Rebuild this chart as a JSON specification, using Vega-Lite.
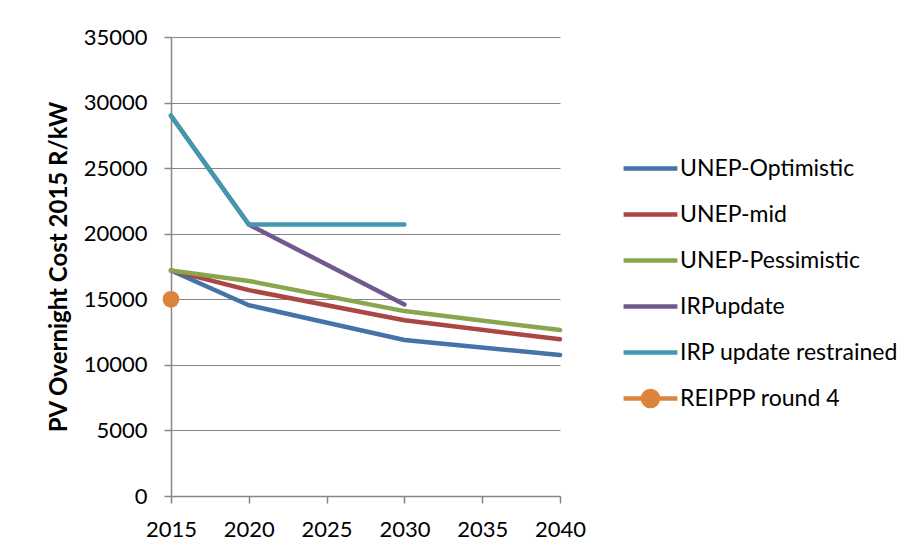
{
  "$schema": "https://vega.github.io/schema/vega-lite/v6.json",
  "autosize": "none",
  "width": 389,
  "height": 459,
  "padding": {"left": 171, "top": 37, "right": 357, "bottom": 61},
  "background": "white",
  "config": {
    "view": {"stroke": null},
    "font": "Lato",
    "axis": {"labelFont": "Lato", "titleFont": "Lato", "labelColor": "#000", "titleColor": "#000", "domainColor": "#868686", "tickColor": "#868686", "gridColor": "#868686", "labelFontSize": 22, "titleFontSize": 24, "domainWidth": 1.5, "tickWidth": 1.5}
  },
  "datasets": {
    "lines": [
      {"series": "UNEP-Optimistic", "year": 2015, "cost": 17200},
      {"series": "UNEP-Optimistic", "year": 2020, "cost": 14550},
      {"series": "UNEP-Optimistic", "year": 2030, "cost": 11900},
      {"series": "UNEP-Optimistic", "year": 2040, "cost": 10750},
      {"series": "UNEP-mid", "year": 2015, "cost": 17200},
      {"series": "UNEP-mid", "year": 2020, "cost": 15700},
      {"series": "UNEP-mid", "year": 2030, "cost": 13400},
      {"series": "UNEP-mid", "year": 2040, "cost": 11950},
      {"series": "UNEP-Pessimistic", "year": 2015, "cost": 17200},
      {"series": "UNEP-Pessimistic", "year": 2020, "cost": 16400},
      {"series": "UNEP-Pessimistic", "year": 2030, "cost": 14100},
      {"series": "UNEP-Pessimistic", "year": 2040, "cost": 12650},
      {"series": "IRPupdate", "year": 2015, "cost": 29000},
      {"series": "IRPupdate", "year": 2020, "cost": 20700},
      {"series": "IRPupdate", "year": 2030, "cost": 14600},
      {"series": "IRP update restrained", "year": 2015, "cost": 29000},
      {"series": "IRP update restrained", "year": 2020, "cost": 20700},
      {"series": "IRP update restrained", "year": 2030, "cost": 20700}
    ],
    "points": [
      {"series": "REIPPP round 4", "year": 2015, "cost": 15000}
    ]
  },
  "encoding": {
    "x": {"field": "year", "type": "quantitative", "scale": {"domain": [2015, 2040], "nice": false, "zero": false},
      "axis": {"values": [2015, 2020, 2025, 2030, 2035, 2040], "format": "d", "title": null, "grid": false, "tickSize": 7, "labelPadding": 16, "labelFlush": false, "labelOverlap": false}},
    "y": {"field": "cost", "type": "quantitative", "scale": {"domain": [0, 35000], "nice": false},
      "axis": {"values": [0, 5000, 10000, 15000, 20000, 25000, 30000, 35000], "format": "d", "title": "PV Overnight Cost 2015 R/kW", "titleFontWeight": "bold", "titlePadding": 12, "tickSize": 7, "labelPadding": 17, "labelFlush": false}},
    "color": {"field": "series", "type": "nominal",
      "scale": {"domain": ["UNEP-Optimistic", "UNEP-mid", "UNEP-Pessimistic", "IRPupdate", "IRP update restrained", "REIPPP round 4"],
        "range": ["#4572A7", "#AA4643", "#89A54E", "#71588F", "#4198AF", "#DB843D"]},
      "legend": {"title": null, "orient": "none", "legendX": 450, "legendY": 102, "symbolType": "stroke", "symbolSize": 2900, "symbolStrokeWidth": 4.5, "labelFontSize": 23, "labelFont": "Lato", "labelColor": "#000", "labelLimit": 400, "rowPadding": 4, "labelOffset": 0,
        "encode": {"symbols": {"update": {
          "shape": {"signal": "datum.value === 'REIPPP round 4' ? 'M-1,0H1M0.28,0A0.28,0.28,0,1,1,-0.28,0A0.28,0.28,0,1,1,0.28,0' : 'stroke'"},
          "fill": {"signal": "datum.value === 'REIPPP round 4' ? '#DB843D' : 'transparent'"}
        }}}}
    }
  },
  "layer": [
    {"data": {"name": "lines"}, "mark": {"type": "line", "strokeWidth": 4.5, "strokeCap": "round", "strokeJoin": "round"}},
    {"data": {"name": "points"}, "mark": {"type": "point", "filled": true, "size": 280, "opacity": 1, "shape": "circle"}}
  ]
}
